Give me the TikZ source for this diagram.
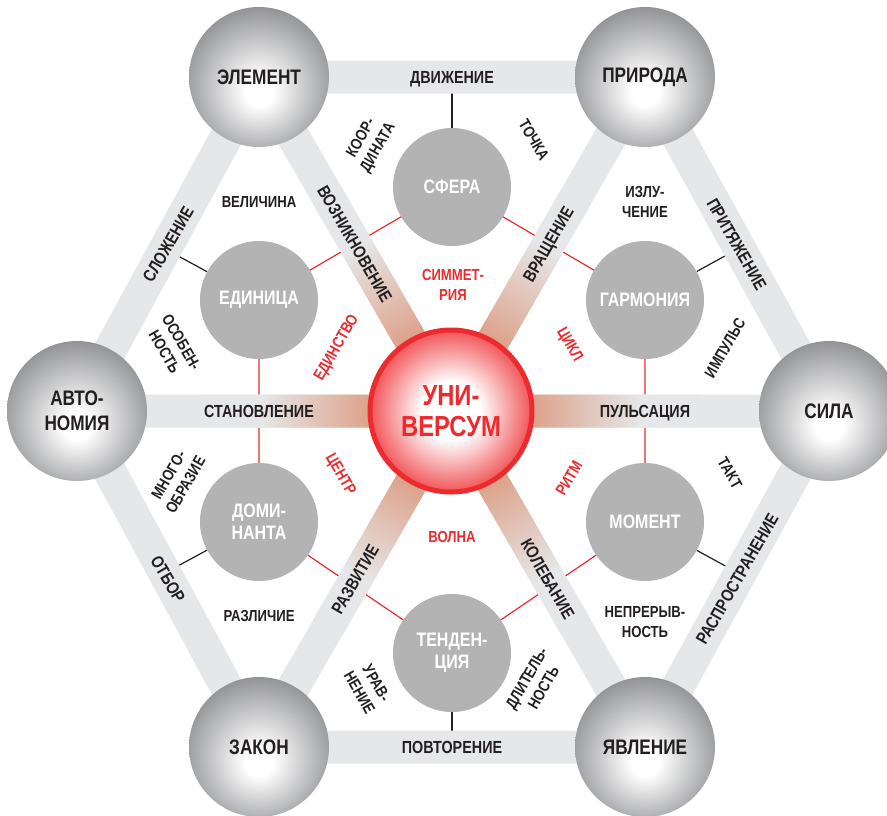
\documentclass[tikz,border=0pt]{standalone}
\usepackage{fontspec}
\setmainfont{Liberation Sans}[FakeStretch=0.82]
\usetikzlibrary{calc}
\definecolor{bandgray}{HTML}{E6E7E8}
\definecolor{bandrose}{HTML}{DDA48D}
\definecolor{spheregray}{HTML}{838487}
\definecolor{innergray}{HTML}{B3B3B3}
\definecolor{unired}{HTML}{ED2A2E}
\definecolor{inkdark}{HTML}{231F20}
\pgfdeclareradialshading{sphere}{\pgfpoint{0bp}{-6bp}}{color(0bp)=(white); color(5bp)=(white); color(31bp)=(spheregray); color(50bp)=(spheregray)}
\pgfdeclareradialshading{glow}{\pgfpointorigin}{color(0bp)=(white); color(9bp)=(white); color(22bp)=(unired!65); color(25bp)=(unired!80); color(50bp)=(unired!80)}
\pgfdeclareradialshading{rosefade}{\pgfpointorigin}{color(0bp)=(bandrose); color(8.5bp)=(bandrose); color(19bp)=(bandgray); color(50bp)=(bandgray)}
\pgfdeclarelayer{wires}
\pgfdeclarelayer{bands}
\pgfsetlayers{wires,bands,main}
\begin{document}
\begin{tikzpicture}[
  x=1pt, y=-1pt,
  outerball/.style={circle, minimum size=140pt, inner sep=0pt, shade, shading=sphere, text=inkdark, align=center, font=\fontsize{21}{25}\selectfont\bfseries},
  innerball/.style={circle, minimum size=118pt, inner sep=0pt, fill=innergray, text=white, align=center, font=\fontsize{19.5}{22}\selectfont\bfseries},
  core/.style={circle, minimum size=162pt, inner sep=0pt, shade, shading=glow, draw=unired, line width=5pt, text=unired, align=center, font=\fontsize{29}{31}\selectfont\bfseries},
  band/.style={draw=bandgray, line width=33pt},
  bandtxt/.style={inner sep=0pt, text height=12.6pt, text depth=0pt, text=inkdark, font=\fontsize{17.5}{19}\selectfont\bfseries},
  smalltxt/.style={inner sep=0pt, align=center, text=inkdark, font=\fontsize{16}{19.5}\selectfont\bfseries},
  redtxt/.style={smalltxt, text=unired},
  wire/.style={draw=inkdark, line width=1.2pt},
  redwire/.style={draw=unired, line width=1.2pt}
]
\useasboundingbox (0,0) rectangle (887,815);

% Outer spheres on the hexagon
\node[outerball] (el) at (259,77) {ЭЛЕМЕНТ};
\node[outerball] (pr) at (645,77) {ПРИРОДА};
\node[outerball] (av) at (77,411) {АВТО-\\НОМИЯ};
\node[outerball] (si) at (829,411) {СИЛА};
\node[outerball] (za) at (259,747) {ЗАКОН};
\node[outerball] (ya) at (645,747) {ЯВЛЕНИЕ};

% Centre
\node[core] (uni) at (451,411) {УНИ-\\ВЕРСУМ};

% Inner grey discs
\node[innerball] (sf) at (452,187) {СФЕРА};
\node[innerball] (ed) at (259,300) {ЕДИНИЦА};
\node[innerball] (ga) at (645,300) {ГАРМОНИЯ};
\node[innerball] (dm) at (259,522) {ДОМИ-\\НАНТА};
\node[innerball] (mo) at (645,522) {МОМЕНТ};
\node[innerball] (te) at (452,653) {ТЕНДЕН-\\ЦИЯ};

% Thin links, under the bands
\begin{pgfonlayer}{wires}
\draw[redwire] (sf.center) -- (ed.center) -- (dm.center) -- (te.center) -- (mo.center) -- (ga.center) -- cycle;
\coordinate (sfend) at ($(el.center)!(sf.center)!(pr.center)$);
\coordinate (edend) at ($(av.center)!(ed.center)!(el.center)$);
\coordinate (gaend) at ($(pr.center)!(ga.center)!(si.center)$);
\coordinate (dmend) at ($(av.center)!(dm.center)!(za.center)$);
\coordinate (moend) at ($(si.center)!(mo.center)!(ya.center)$);
\coordinate (teend) at ($(za.center)!(te.center)!(ya.center)$);
\draw[wire] (sf) -- (sfend);
\draw[wire] (ed) -- (edend);
\draw[wire] (ga) -- (gaend);
\draw[wire] (dm) -- (dmend);
\draw[wire] (mo) -- (moend);
\draw[wire] (te) -- (teend);
\end{pgfonlayer}

% Wide bands: hexagon and the three diameters
\begin{pgfonlayer}{bands}
\draw[band] (el.center) -- (pr.center) -- (si.center) -- (ya.center) -- (za.center) -- (av.center) -- cycle;
\draw[band] (el.center) -- (ya.center) (pr.center) -- (za.center) (av.center) -- (si.center);
\begin{scope}
  \clip ($(el.center)!16.5pt!90:(ya.center)$) -- ($(ya.center)!16.5pt!-90:(el.center)$) -- ($(ya.center)!16.5pt!90:(el.center)$) -- ($(el.center)!16.5pt!-90:(ya.center)$) -- cycle
        ($(pr.center)!16.5pt!90:(za.center)$) -- ($(za.center)!16.5pt!-90:(pr.center)$) -- ($(za.center)!16.5pt!90:(pr.center)$) -- ($(pr.center)!16.5pt!-90:(za.center)$) -- cycle
        ($(av.center)!16.5pt!90:(si.center)$) -- ($(si.center)!16.5pt!-90:(av.center)$) -- ($(si.center)!16.5pt!90:(av.center)$) -- ($(av.center)!16.5pt!-90:(si.center)$) -- cycle;
  \shade[shading=rosefade] (uni.center) circle (250pt);
\end{scope}
\end{pgfonlayer}

% Band labels
\node[bandtxt] (dvi) at (452,77) {ДВИЖЕНИЕ};
\node[bandtxt] (pov) at (452,747) {ПОВТОРЕНИЕ};
\node[bandtxt] (sta) at (259,411) {СТАНОВЛЕНИЕ};
\node[bandtxt] (pul) at (645,411) {ПУЛЬСАЦИЯ};
\node[bandtxt, rotate=60] (slo) at (168,244) {СЛОЖЕНИЕ};
\node[bandtxt, rotate=-60] (pri) at (737,244) {ПРИТЯЖЕНИЕ};
\node[bandtxt, rotate=-60] (otb) at (168,579) {ОТБОР};
\node[bandtxt, rotate=60] (ras) at (737,579) {РАСПРОСТРАНЕНИЕ};
\node[bandtxt, rotate=-60] (voz) at (355,244) {ВОЗНИКНОВЕНИЕ};
\node[bandtxt, rotate=60] (vra) at (548,244) {ВРАЩЕНИЕ};
\node[bandtxt, rotate=60] (raz) at (355,579) {РАЗВИТИЕ};
\node[bandtxt, rotate=-60] (kol) at (548,579) {КОЛЕБАНИЕ};

% Words between the discs
\node[smalltxt, rotate=60] (koo) at (370,143) {КООР-\\ДИНАТА};
\node[smalltxt, rotate=-60] (toc) at (534,140) {ТОЧКА};
\node[smalltxt] (vel) at (259,202) {ВЕЛИЧИНА};
\node[smalltxt] (izl) at (645,202) {ИЗЛУ-\\ЧЕНИЕ};
\node[smalltxt, rotate=-60] (oso) at (173,347) {ОСОБЕН-\\НОСТЬ};
\node[smalltxt, rotate=60] (imp) at (725,348) {ИМПУЛЬС};
\node[smalltxt, rotate=60] (mno) at (177,480) {МНОГО-\\ОБРАЗИЕ};
\node[smalltxt, rotate=-60] (tak) at (730,473) {ТАКТ};
\node[smalltxt] (rzl) at (259,616) {РАЗЛИЧИЕ};
\node[smalltxt] (nep) at (645,622) {НЕПРЕРЫВ-\\НОСТЬ};
\node[smalltxt, rotate=-60] (ura) at (368,688) {УРАВ-\\НЕНИЕ};
\node[smalltxt, rotate=60] (dli) at (535,683) {ДЛИТЕЛЬ-\\НОСТЬ};

% Red words round the centre
\node[redtxt] (sim) at (453,285) {СИММЕТ-\\РИЯ};
\node[redtxt, rotate=60] (edi) at (337,348) {ЕДИНСТВО};
\node[redtxt, rotate=-60] (cik) at (569,345) {ЦИКЛ};
\node[redtxt, rotate=-60] (cen) at (340,475) {ЦЕНТР};
\node[redtxt, rotate=60] (rit) at (569,478) {РИТМ};
\node[redtxt] (vol) at (452,537) {ВОЛНА};

\end{tikzpicture}
\end{document}
